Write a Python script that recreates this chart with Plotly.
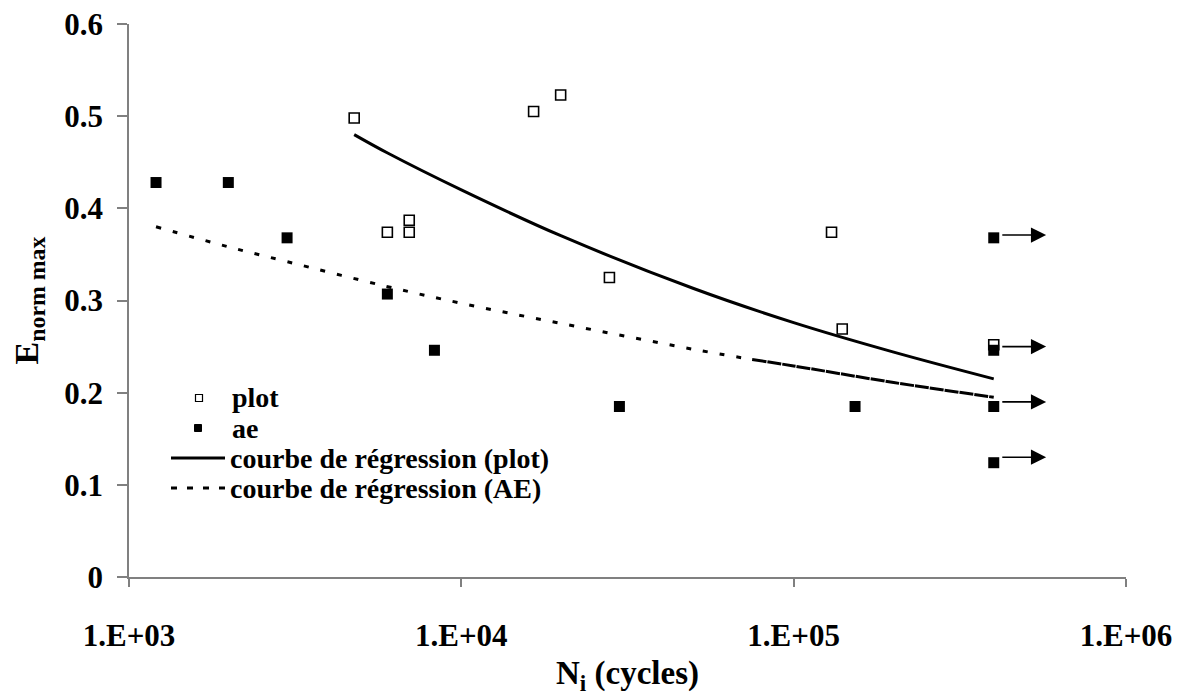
import numpy as np
import plotly.graph_objects as go

# open squares ("plot")
plot_N = [4760, 5990, 6970, 6970, 16500, 19900, 27900, 130000, 140000, 400000]
plot_E = [0.498, 0.374, 0.374, 0.387, 0.505, 0.523, 0.325, 0.374, 0.269, 0.252]

# filled squares ("ae")
ae_N = [1206, 1990, 2990, 5990, 8300, 29900, 153000, 400000, 400000, 400000, 400000]
ae_E = [0.428, 0.428, 0.368, 0.307, 0.246, 0.185, 0.185, 0.368, 0.246, 0.185, 0.124]

# regression curves
reg_plot_N = [4760, 6000, 10000, 20000, 50000, 100000, 200000, 400000]
reg_plot_E = [0.480, 0.460, 0.420, 0.370, 0.313, 0.276, 0.244, 0.215]

reg_ae_N = [1206, 2000, 3000, 6000, 10000, 20000, 50000, 75000, 100000, 200000, 400000]
reg_ae_E = [0.380, 0.358, 0.342, 0.315, 0.297, 0.275, 0.247, 0.236, 0.229, 0.211, 0.195]

# run-outs (specimens not failed) drawn as arrows
arrow_E = [0.371, 0.250, 0.190, 0.130]
arrow_from_N = 420000
arrow_to_N = 575000

x_ticks = [1e3, 1e4, 1e5, 1e6]
x_ticktext = ["1.E+03", "1.E+04", "1.E+05", "1.E+06"]

legend_labels = ["plot", "ae", "courbe de régression (plot)", "courbe de régression (AE)"]

FONT = "Liberation Serif"
AXIS = "#808080"

# page has an 8px body margin, so lay the plot area out in page pixels
W, H = 1184, 697
PAGE_OFF = 8
X0, X1, Y0, Y1 = 129, 1126, 24, 577  # plot area on the page
ML = X0 - PAGE_OFF
MT = Y0 - PAGE_OFF
MR = W - (X1 - PAGE_OFF)
MB = H - (Y1 - PAGE_OFF)
PW, PH = X1 - X0, Y1 - Y0


def px(x):
    return (x - X0) / PW


def py(y):
    return (Y1 - y) / PH


fig = go.Figure()

fig.add_trace(go.Scatter(
    x=plot_N, y=plot_E, mode="markers", showlegend=False,
    marker=dict(symbol="square-open", size=10, color="black", line=dict(width=1.6)),
))
fig.add_trace(go.Scatter(
    x=ae_N, y=ae_E, mode="markers", showlegend=False,
    marker=dict(symbol="square", size=11, color="black"),
))
fig.add_trace(go.Scatter(
    x=reg_plot_N, y=reg_plot_E, mode="lines", line_shape="spline", showlegend=False,
    line=dict(color="black", width=3),
))
# Excel's dotted line gets denser toward the right end
split = reg_ae_N.index(75000)
fig.add_trace(go.Scatter(
    x=reg_ae_N[:split + 1], y=reg_ae_E[:split + 1], mode="lines", line_shape="spline",
    showlegend=False, line=dict(color="black", width=3, dash="5px,12px"),
))
fig.add_trace(go.Scatter(
    x=reg_ae_N[split:], y=reg_ae_E[split:], mode="lines", line_shape="spline",
    showlegend=False, line=dict(color="black", width=3, dash="14px,1px"),
))

for e in arrow_E:
    fig.add_annotation(
        x=np.log10(arrow_to_N), y=e, ax=np.log10(arrow_from_N), ay=e,
        xref="x", yref="y", axref="x", ayref="y",
        showarrow=True, arrowhead=2, arrowsize=1.9, arrowwidth=1.6,
        arrowcolor="black", text="",
    )

# hand-drawn legend (Excel-like tight spacing)
rows_y = [398, 428, 458, 488]
sq = 3.5
fig.add_shape(type="rect", xref="paper", yref="paper",
              x0=px(199 - sq), x1=px(199 + sq), y0=py(rows_y[0] + sq), y1=py(rows_y[0] - sq),
              line=dict(color="black", width=1.2), fillcolor="white")
fig.add_shape(type="rect", xref="paper", yref="paper",
              x0=px(198 - sq), x1=px(198 + sq), y0=py(rows_y[1] + sq), y1=py(rows_y[1] - sq),
              line=dict(color="black", width=1), fillcolor="black")
fig.add_shape(type="line", xref="paper", yref="paper",
              x0=px(171), x1=px(225), y0=py(rows_y[2]), y1=py(rows_y[2]),
              line=dict(color="black", width=3))
fig.add_shape(type="line", xref="paper", yref="paper",
              x0=px(171), x1=px(225), y0=py(rows_y[3]), y1=py(rows_y[3]),
              line=dict(color="black", width=3, dash="6px,10px"))
for lab, ry, tx in zip(legend_labels, rows_y, [230, 230, 228, 228]):
    fig.add_annotation(
        x=px(tx), y=py(ry), xref="paper", yref="paper",
        text=lab, showarrow=False, xanchor="left", yanchor="middle",
        font=dict(size=28, family=FONT, weight="bold", color="black"),
    )

fig.update_layout(
    width=W, height=H,
    margin=dict(l=ML, r=MR, t=MT, b=MB),
    paper_bgcolor="white", plot_bgcolor="white",
    font=dict(family=FONT, size=31, color="black", weight="bold"),
    showlegend=False,
)
fig.update_xaxes(
    type="log", range=[3, 6], automargin=False,
    tickvals=x_ticks, ticktext=x_ticktext, ticklabeloverflow="allow",
    showgrid=False, zeroline=False,
    showline=True, linecolor=AXIS, linewidth=1.5,
    ticks="outside", ticklen=8, tickcolor=AXIS, tickwidth=1.5,
    ticklabelstandoff=22,
    title=dict(text="N<sub>i</sub> (cycles)", standoff=9, font=dict(size=33)),
)
fig.update_yaxes(
    range=[0, 0.6], dtick=0.1, automargin=False, ticklabeloverflow="allow",
    showgrid=False, zeroline=False,
    showline=True, linecolor=AXIS, linewidth=1.5,
    ticks="outside", ticklen=10, tickcolor=AXIS, tickwidth=1.5,
    ticklabelstandoff=8,
    title=dict(text="E<sub>norm max</sub>", standoff=26, font=dict(size=34)),
)

fig.write_html("out.html")
